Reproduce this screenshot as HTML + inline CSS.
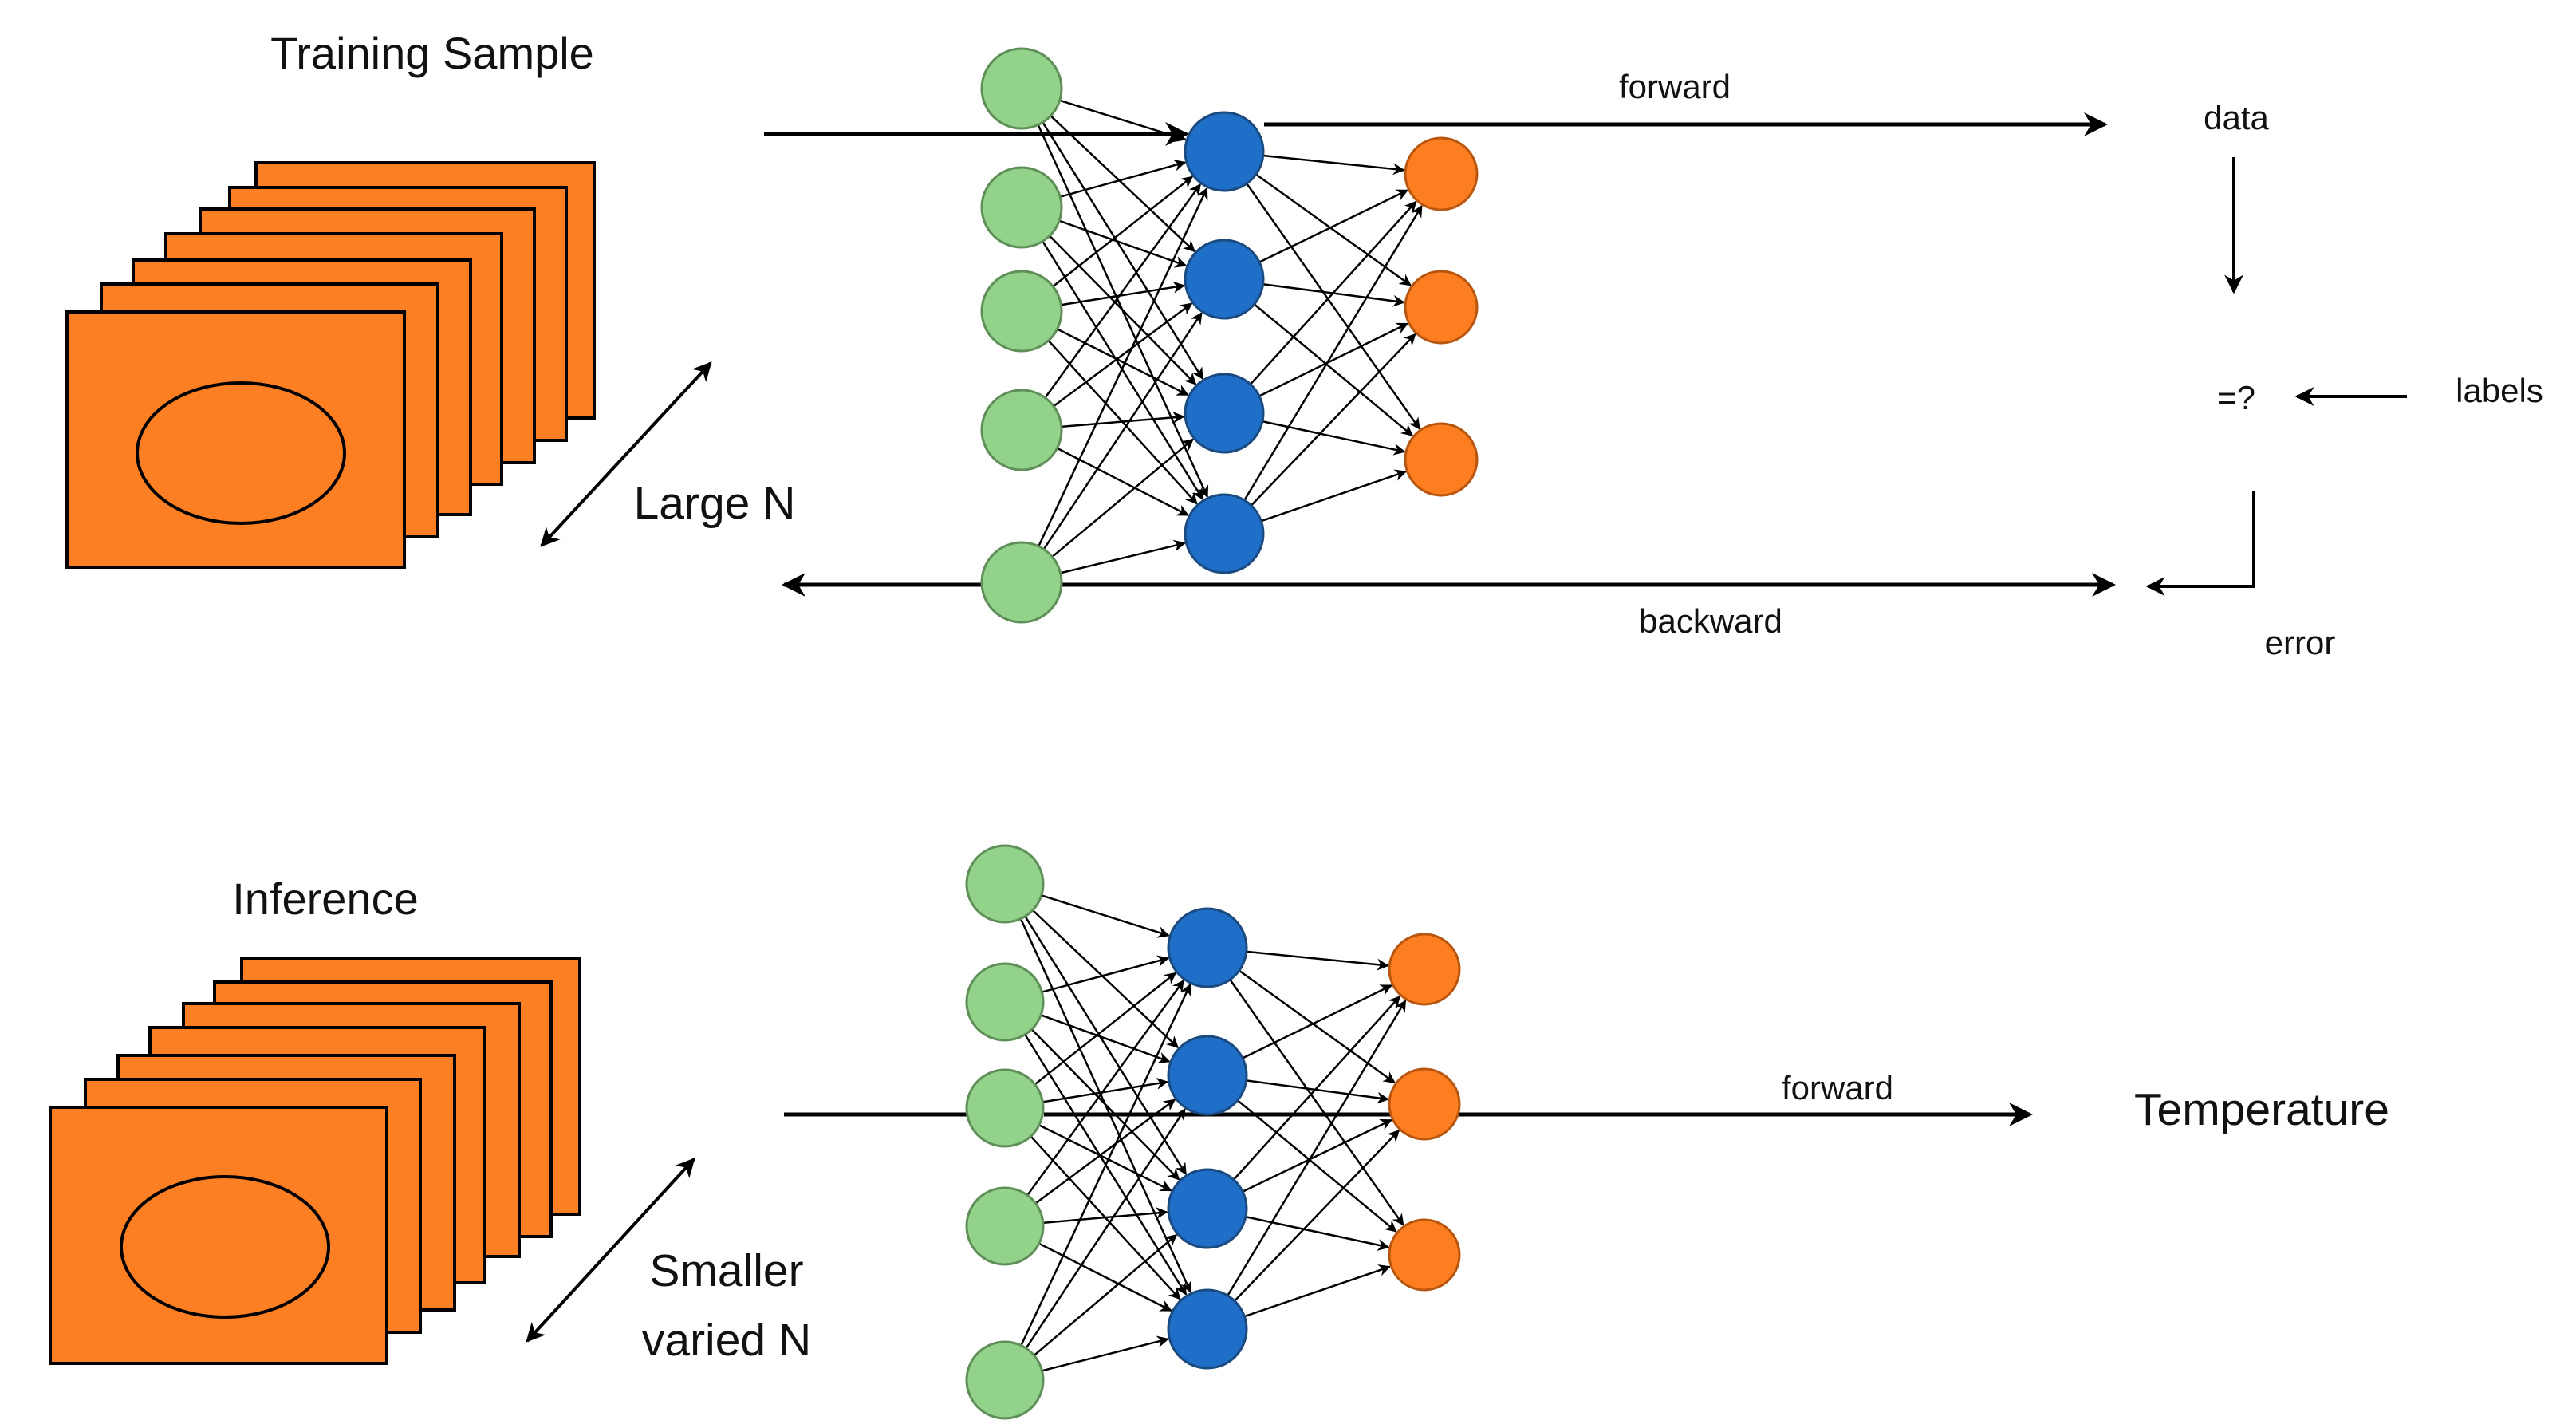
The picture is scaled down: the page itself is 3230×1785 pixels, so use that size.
<!DOCTYPE html>
<html><head><meta charset="utf-8"><style>
html,body{margin:0;padding:0;background:#fff;}
svg{display:block;}
text{font-family:"Liberation Sans",sans-serif;fill:#111;}
</style></head><body>
<svg id="s" width="3230" height="1785" viewBox="0 0 3230 1785" xmlns="http://www.w3.org/2000/svg">
<defs>
<marker id="a" viewBox="0 0 10 10" refX="9" refY="5" markerWidth="6" markerHeight="6" orient="auto-start-reverse" markerUnits="strokeWidth"><path d="M0,0 L10,5 L0,10 L3,5 z" fill="#000"/></marker>
<marker id="b" viewBox="0 0 10 10" refX="9" refY="5" markerWidth="6" markerHeight="6" orient="auto-start-reverse" markerUnits="strokeWidth"><path d="M0,0 L10,5 L0,10 L3,5 z" fill="#000"/></marker>
</defs>
<g id="rects" fill="#fd7f23" stroke="#000" stroke-width="4">
<rect x="321" y="204" width="424" height="320"/>
<rect x="288" y="235" width="422" height="317"/>
<rect x="251" y="262" width="419" height="318"/>
<rect x="208" y="293" width="421" height="314"/>
<rect x="167" y="326" width="423" height="319"/>
<rect x="127" y="356" width="422" height="317"/>
<rect x="84" y="391" width="423" height="320"/>
<ellipse cx="302" cy="568" rx="130" ry="88"/>
<rect x="303" y="1201" width="424" height="321"/>
<rect x="269" y="1231" width="422" height="319"/>
<rect x="230" y="1258" width="421" height="317"/>
<rect x="188" y="1288" width="420" height="320"/>
<rect x="148" y="1323" width="422" height="319"/>
<rect x="107" y="1353" width="420" height="317"/>
<rect x="63" y="1388" width="422" height="321"/>
<ellipse cx="282" cy="1563" rx="130" ry="88"/>
</g>
<g stroke="#000" stroke-width="4" fill="none">
<line x1="891" y1="455" x2="679" y2="684" marker-start="url(#b)" marker-end="url(#b)"/>
<line x1="870" y1="1453" x2="661" y2="1681" marker-start="url(#b)" marker-end="url(#b)"/>
<line x1="958" y1="168" x2="1488" y2="168" stroke-width="5" marker-end="url(#b)"/>
<line x1="1585" y1="156" x2="2640" y2="156" stroke-width="5" marker-end="url(#b)"/>
<line x1="983" y1="733" x2="2650" y2="733" stroke-width="5" marker-start="url(#b)" marker-end="url(#b)"/>
<line x1="2801" y1="197" x2="2801" y2="366" marker-end="url(#b)"/>
<line x1="3018" y1="497" x2="2880" y2="497" marker-end="url(#b)"/>
<polyline points="2826,615 2826,735 2693,735" marker-end="url(#b)"/>
<line x1="983" y1="1397" x2="1215" y2="1397" stroke-width="5"/>
<line x1="1309" y1="1397" x2="2546" y2="1397" stroke-width="5" marker-end="url(#b)"/>
</g>
<g id="edges" stroke="#000" stroke-width="2.5" fill="none"></g>
<g id="nodes"></g>
<text x="542" y="86" font-size="56" text-anchor="middle">Training Sample</text>
<text x="896" y="650" font-size="57" text-anchor="middle">Large N</text>
<text x="2100" y="123" font-size="42" text-anchor="middle">forward</text>
<text x="2804" y="162" font-size="42" text-anchor="middle">data</text>
<text x="2804" y="513" font-size="42" text-anchor="middle">=?</text>
<text x="3134" y="504" font-size="42" text-anchor="middle">labels</text>
<text x="2145" y="793" font-size="42" text-anchor="middle">backward</text>
<text x="2884" y="820" font-size="42" text-anchor="middle">error</text>
<text x="408" y="1146" font-size="56" text-anchor="middle">Inference</text>
<text x="911" y="1612" font-size="57" text-anchor="middle">Smaller</text>
<text x="911" y="1699" font-size="57" text-anchor="middle">varied N</text>
<text x="2304" y="1378" font-size="42" text-anchor="middle">forward</text>
<text x="2836" y="1410" font-size="57" text-anchor="middle">Temperature</text>
</svg>
<script>
var NS="http://www.w3.org/2000/svg";
var E=document.getElementById("edges"),N=document.getElementById("nodes");
function net(gx,gy,bx,by,ox,oy,gr,br,or){
  function link(x1,y1,x2,y2,r){
    var dx=x2-x1,dy=y2-y1,d=Math.sqrt(dx*dx+dy*dy);
    var l=document.createElementNS(NS,"line");
    l.setAttribute("x1",x1+dx/d*gr*0.9);l.setAttribute("y1",y1+dy/d*gr*0.9);
    l.setAttribute("x2",x2-dx/d*(r+2));l.setAttribute("y2",y2-dy/d*(r+2));
    l.setAttribute("marker-end","url(#a)");E.appendChild(l);
  }
  gy.forEach(function(a){by.forEach(function(b){link(gx,a,bx,b,br);});});
  by.forEach(function(a){oy.forEach(function(b){link(bx,a,ox,b,or);});});
  function c(x,y,rx,ry,f,s){var e=document.createElementNS(NS,"ellipse");e.setAttribute("cx",x);e.setAttribute("cy",y);e.setAttribute("rx",rx);e.setAttribute("ry",ry);e.setAttribute("fill",f);e.setAttribute("stroke",s);e.setAttribute("stroke-width","3");N.appendChild(e);}
  gy.forEach(function(y){c(gx,y,gr,gr,"#93d28a","#5f8f58");});
  by.forEach(function(y){c(bx,y,br,br,"#1f6fc8","#1a4a80");});
  oy.forEach(function(y){c(ox,y,or,or,"#fd7e20","#b8560f");});
}
net(1281,[111,260,390,539,730],1535,[190,350,518,669],1807,[218,385,576],50,49,45);
net(1260,[1108,1256,1389,1537,1730],1514,[1188,1348,1515,1666],1786,[1215,1384,1573],48,49,44);
</script>
</body></html>
